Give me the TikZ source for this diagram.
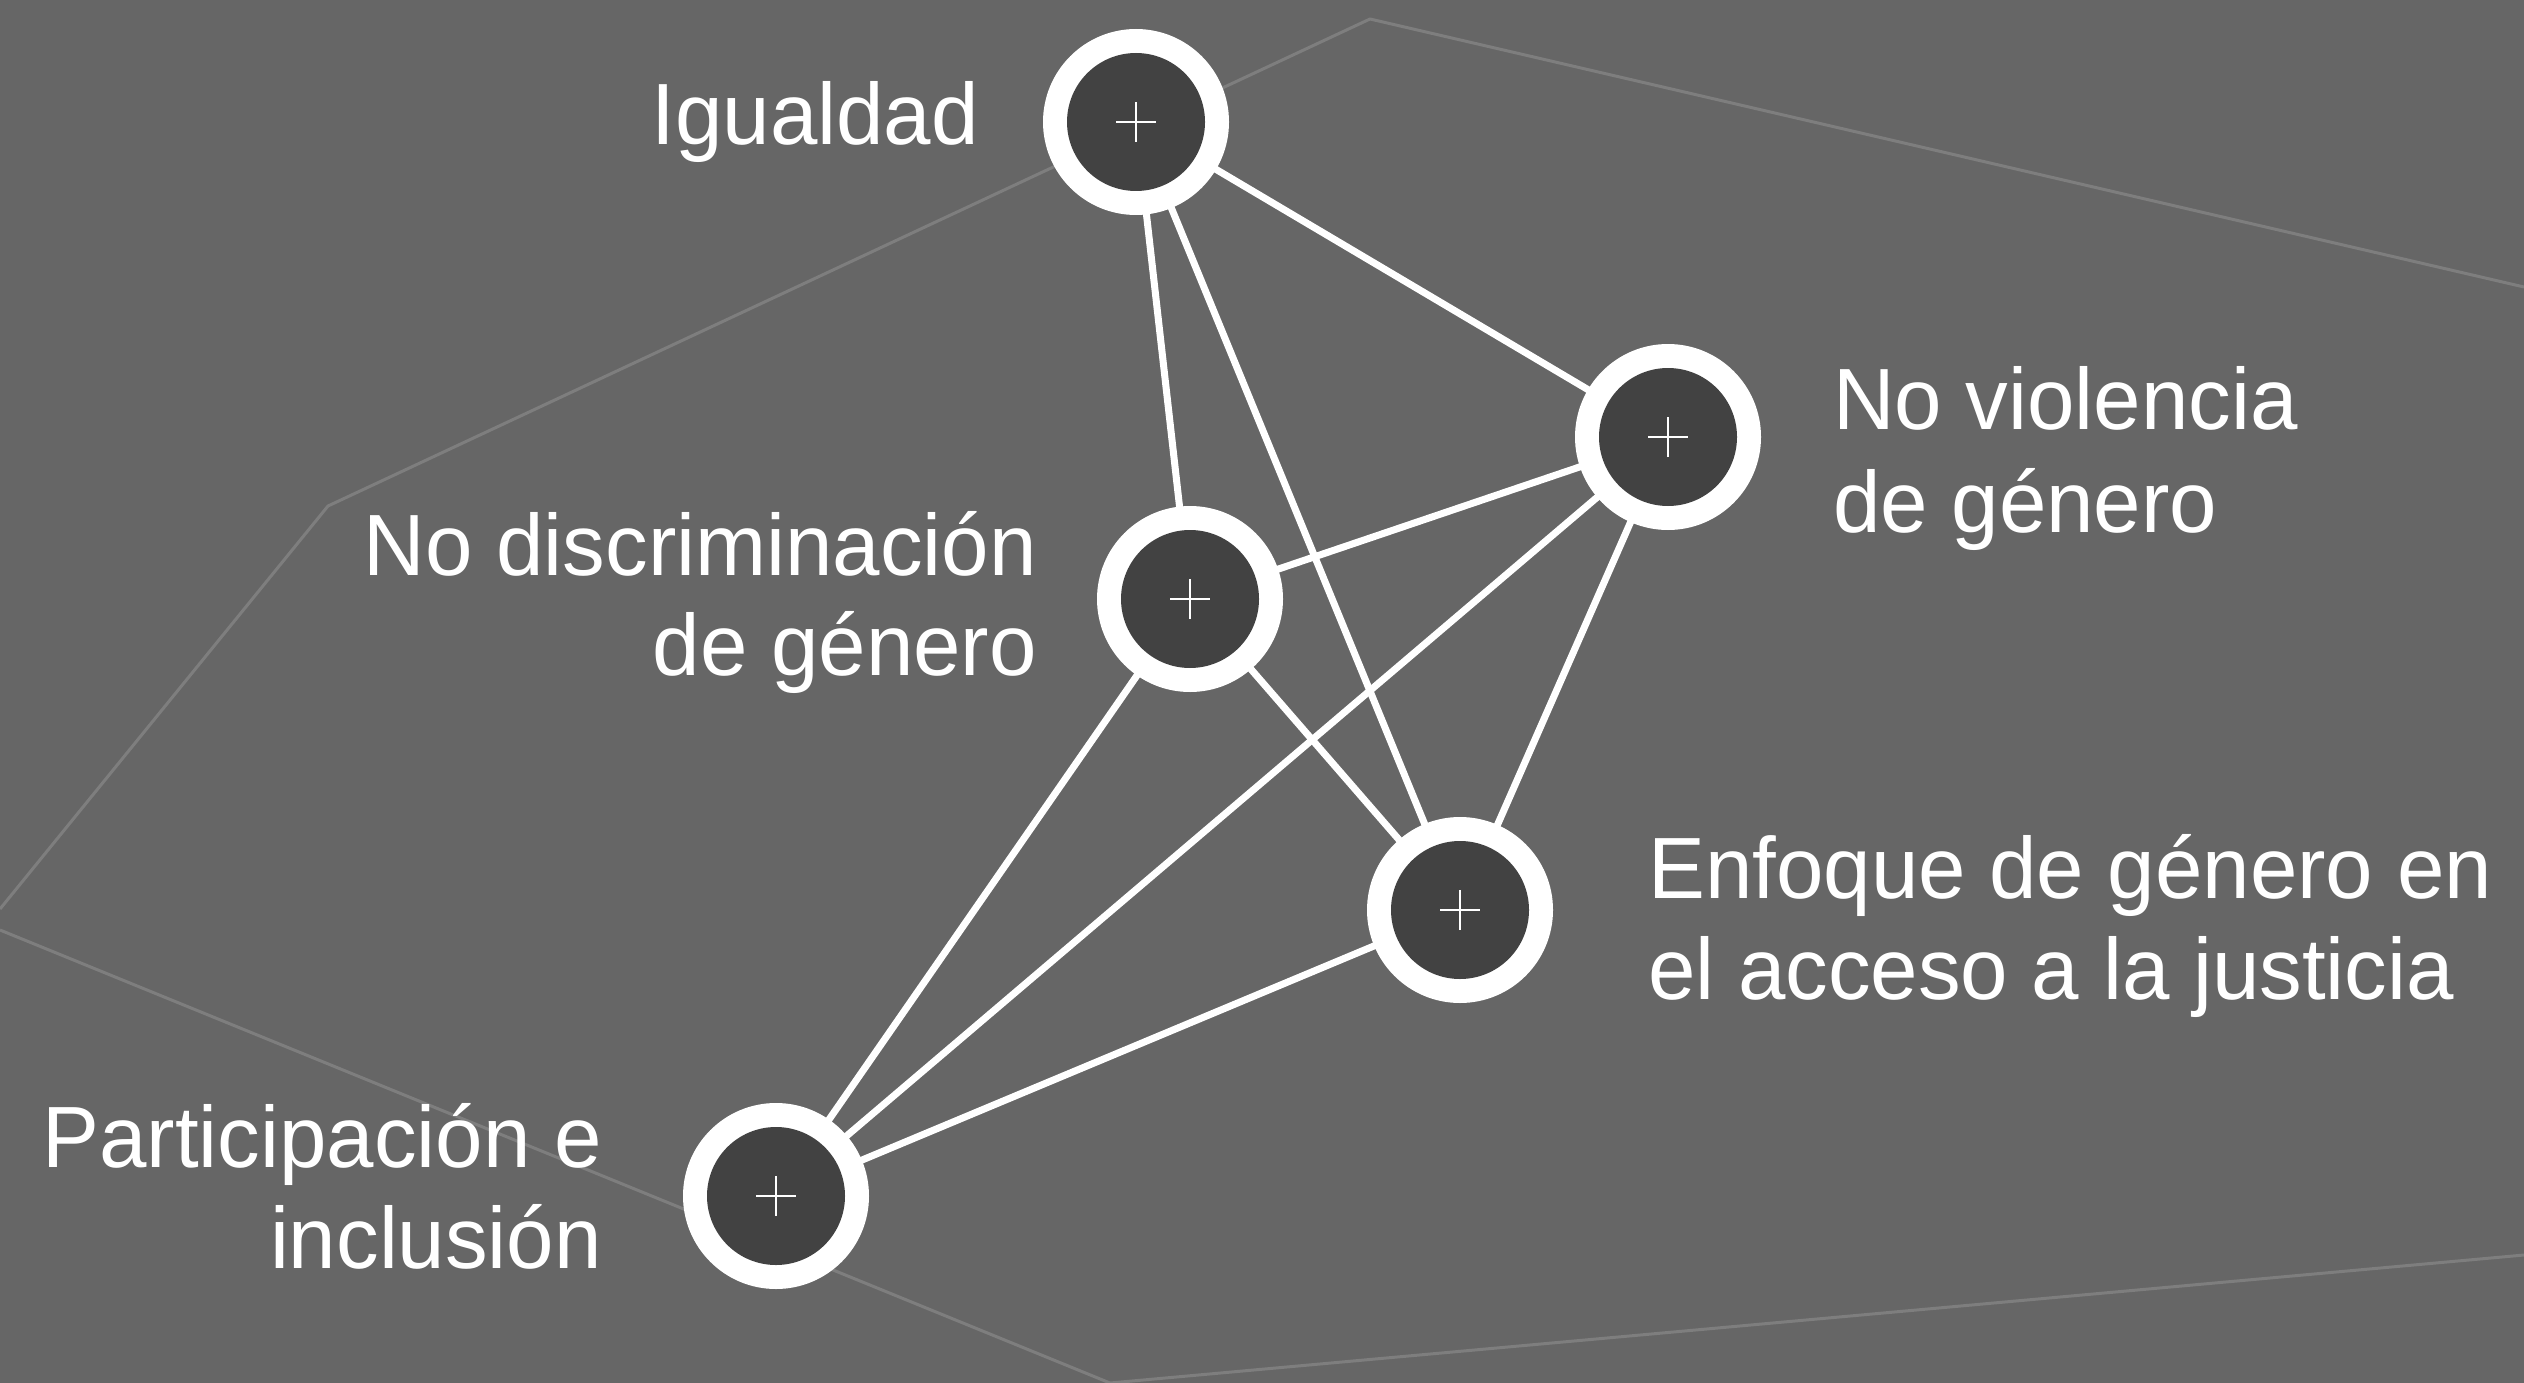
\documentclass[tikz,border=0pt]{standalone}
\usepackage{fontspec}
\setmainfont{Liberation Sans}[FakeStretch=0.98]
\definecolor{bg}{HTML}{666666}
\definecolor{inner}{HTML}{424242}
\definecolor{faint}{HTML}{7E7E7E}
\begin{document}
\begin{tikzpicture}[x=1pt,y=-1pt,
  bgline/.style={draw=faint,line width=3pt,line join=round},
  link/.style={draw=white,line width=7pt},
  outerdot/.style={circle,fill=white,minimum size=186pt,inner sep=0pt},
  innerdot/.style={circle,fill=inner,minimum size=138pt,inner sep=0pt},
  plusmark/.style={draw=white,line width=2.6pt},
  lbl/.style={text=white,inner sep=0pt,font=\fontsize{87}{103}\selectfont}]
\fill[bg] (0,0) rectangle (2524,1383);
\useasboundingbox (0,0) rectangle (2524,1383);
% background faint lines
\coordinate (f1) at (0,909);
\coordinate (f2) at (328,506);
\coordinate (f3) at (1370,19);
\coordinate (f4) at (2524,287);
\coordinate (g1) at (0,930);
\coordinate (g2) at (1110,1383);
\coordinate (g3) at (2524,1255);
\draw[bgline] (f1) -- (f2) -- (f3) -- (f4);
\draw[bgline] (g1) -- (g2) -- (g3);
% node centres
\coordinate (Ig) at (1136,122);
\coordinate (NV) at (1668,437);
\coordinate (ND) at (1190,599);
\coordinate (EG) at (1460,910);
\coordinate (PI) at (776,1196);
% connectors
\draw[link] (Ig) -- (NV);
\draw[link] (Ig) -- (ND);
\draw[link] (Ig) -- (EG);
\draw[link] (NV) -- (ND);
\draw[link] (NV) -- (PI);
\draw[link] (NV) -- (EG);
\draw[link] (ND) -- (EG);
\draw[link] (ND) -- (PI);
\draw[link] (EG) -- (PI);
% circles
\foreach \c in {Ig,NV,ND,EG,PI}{
  \node[outerdot] (o\c) at (\c) {};
  \node[innerdot] (i\c) at (\c) {};
  \draw[plusmark] ([xshift=-20pt]\c) -- ([xshift=20pt]\c);
  \draw[plusmark] ([yshift=-20pt]\c) -- ([yshift=20pt]\c);
}
% labels
\node[lbl,anchor=base east] (tIg) at (979,145) {Igualdad};
\node[lbl,anchor=base west] (tNV1) at (1833,429) {No violencia};
\node[lbl,anchor=base west] (tNV2) at (1833,532) {de género};
\node[lbl,anchor=base east] (tND1) at (1037,575) {No discriminación};
\node[lbl,anchor=base east] (tND2) at (1037,675) {de género};
\node[lbl,anchor=base west] (tEG1) at (1648,898) {Enfoque de género en};
\node[lbl,anchor=base west] (tEG2) at (1648,999) {el acceso a la justicia};
\node[lbl,anchor=base east] (tPI1) at (602,1167) {Participación e};
\node[lbl,anchor=base east] (tPI2) at (602,1268) {inclusión};
\end{tikzpicture}
\end{document}
